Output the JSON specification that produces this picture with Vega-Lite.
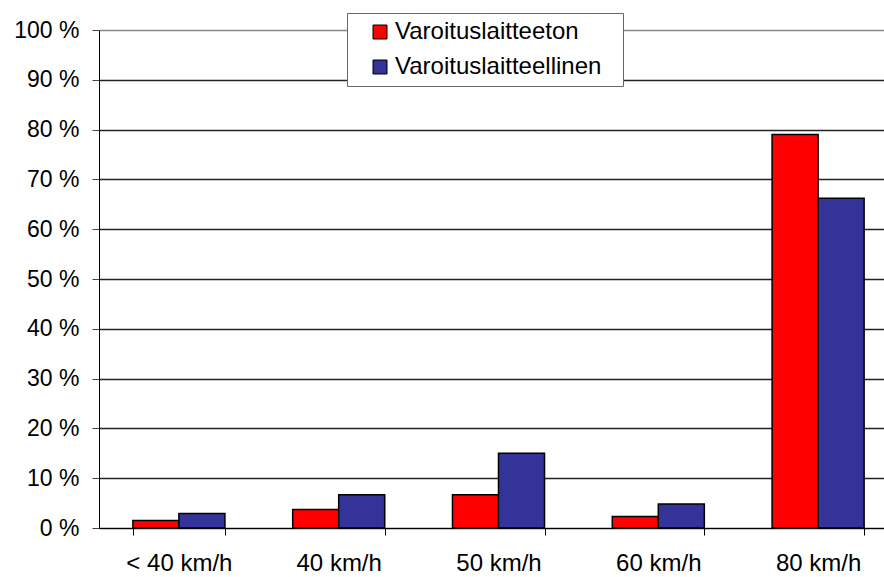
{
  "$schema": "https://vega.github.io/schema/vega-lite/v6.json",
  "width": 799,
  "height": 498,
  "autosize": "none",
  "padding": {"left": 99, "top": 30, "right": 0, "bottom": 49},
  "background": "white",
  "config": {
    "view": {"stroke": null},
    "font": "Liberation Sans"
  },
  "data": {
    "values": [
      {"nopeus": "< 40 km/h", "ryhma": "Varoituslaitteeton", "osuus": 1.5},
      {"nopeus": "< 40 km/h", "ryhma": "Varoituslaitteellinen", "osuus": 2.9},
      {"nopeus": "40 km/h", "ryhma": "Varoituslaitteeton", "osuus": 3.7},
      {"nopeus": "40 km/h", "ryhma": "Varoituslaitteellinen", "osuus": 6.7},
      {"nopeus": "50 km/h", "ryhma": "Varoituslaitteeton", "osuus": 6.7},
      {"nopeus": "50 km/h", "ryhma": "Varoituslaitteellinen", "osuus": 15.0},
      {"nopeus": "60 km/h", "ryhma": "Varoituslaitteeton", "osuus": 2.3},
      {"nopeus": "60 km/h", "ryhma": "Varoituslaitteellinen", "osuus": 4.8},
      {"nopeus": "80 km/h", "ryhma": "Varoituslaitteeton", "osuus": 79.0},
      {"nopeus": "80 km/h", "ryhma": "Varoituslaitteellinen", "osuus": 66.2}
    ]
  },
  "mark": {"type": "bar", "stroke": "black", "strokeWidth": 1.5},
  "encoding": {
    "x": {
      "field": "nopeus",
      "type": "nominal",
      "sort": ["< 40 km/h", "40 km/h", "50 km/h", "60 km/h", "80 km/h"],
      "scale": {"paddingInner": 0.424, "paddingOuter": 0.212},
      "axis": {
        "title": null,
        "labelAngle": 0,
        "labelFontSize": 24,
        "labelColor": "black",
        "labelPadding": 16,
        "tickBand": "extent",
        "tickSize": 7,
        "tickColor": "black",
        "domainColor": "black",
        "grid": false
      }
    },
    "xOffset": {
      "field": "ryhma",
      "type": "nominal",
      "sort": ["Varoituslaitteeton", "Varoituslaitteellinen"],
      "scale": {"paddingInner": 0, "paddingOuter": 0}
    },
    "y": {
      "field": "osuus",
      "type": "quantitative",
      "scale": {"domain": [0, 100], "nice": false},
      "axis": {
        "title": null,
        "values": [0, 10, 20, 30, 40, 50, 60, 70, 80, 90, 100],
        "labelExpr": "datum.value + ' %'",
        "labelFontSize": 23,
        "labelColor": "black",
        "labelPadding": 13,
        "tickSize": 7,
        "tickColor": "#444",
        "domainColor": "black",
        "grid": true,
        "gridColor": {"condition": {"test": "datum.value == 100", "value": "#888888"}, "value": "#222222"},
        "gridWidth": 1.3
      }
    },
    "color": {
      "field": "ryhma",
      "type": "nominal",
      "sort": ["Varoituslaitteeton", "Varoituslaitteellinen"],
      "scale": {"domain": ["Varoituslaitteeton", "Varoituslaitteellinen"], "range": ["#FF0000", "#333399"]},
      "legend": {
        "title": "\u00a0",
        "titleOrient": "right",
        "titlePadding": 15,
        "titleFontSize": 10,
        "orient": "none",
        "legendX": 248,
        "legendY": -17,
        "padding": 7,
        "symbolOffset": 14,
        "symbolType": "square",
        "symbolSize": 196,
        "symbolStrokeColor": "black",
        "symbolStrokeWidth": 1,
        "labelFontSize": 24,
        "labelLimit": 400,
        "labelColor": "black",
        "labelOffset": 3,
        "rowPadding": 11,
        "fillColor": "white",
        "strokeColor": "#666666"
      }
    }
  }
}
